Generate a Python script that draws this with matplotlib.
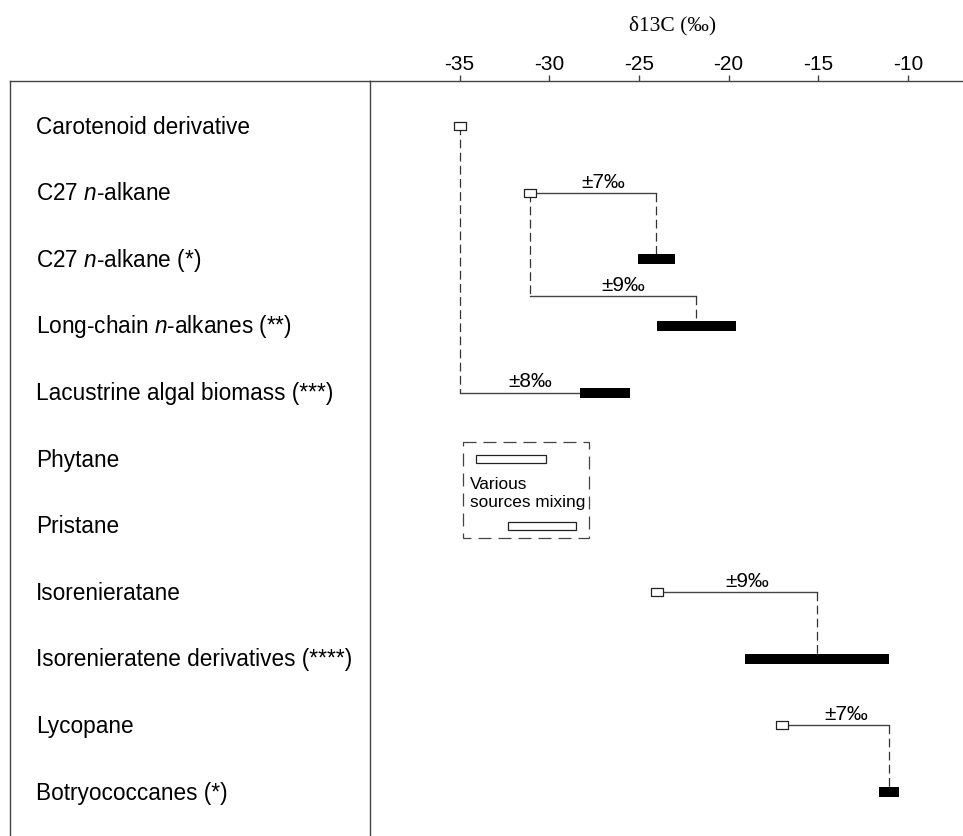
import matplotlib
matplotlib.use("Agg")
import matplotlib.pyplot as plt
from matplotlib.patches import Rectangle
from matplotlib.lines import Line2D
from matplotlib.transforms import blended_transform_factory

plt.rcParams['font.family'] = ['Liberation Sans', 'DejaVu Sans']
plt.rcParams['mathtext.fontset'] = 'custom'
plt.rcParams['mathtext.rm'] = 'Liberation Sans'
plt.rcParams['mathtext.it'] = 'Liberation Sans:italic'

# Filas de la tabla (de arriba abajo)
compounds = [
    "Carotenoid derivative",
    r"C27 $\mathit{n}$-alkane",
    r"C27 $\mathit{n}$-alkane (*)",
    r"Long-chain $\mathit{n}$-alkanes (**)",
    "Lacustrine algal biomass (***)",
    "Phytane",
    "Pristane",
    "Isorenieratane",
    "Isorenieratene derivatives (****)",
    "Lycopane",
    "Botryococcanes (*)",
]

# Valores medidos (cuadrados abiertos): fila, d13C
measured_rows = [0, 1, 7, 9]
measured_d13c = [-35.0, -31.1, -24.0, -17.0]

# Rangos de referencia (barras negras): fila, inicio, fin
range_rows = [2, 3, 4, 8, 10]
range_start = [-25.05, -24.0, -28.3, -19.1, -11.6]
range_end = [-23.0, -19.6, -25.5, -11.05, -10.5]

# Phytane / Pristane (barras abiertas)
mix_rows = [5, 6]
mix_start = [-34.1, -32.3]
mix_end = [-30.2, -28.5]

# Conexiones: fila origen, fila destino, desplazamiento, tipo de codo
link_from = [1, 1, 0, 7, 9]
link_to = [2, 3, 4, 8, 10]
link_shift = ["±7‰", "±9‰", "±8‰", "±9‰", "±7‰"]
link_kind = ["top", "mid", "bottom", "top", "top"]

ticks = [-35, -30, -25, -20, -15, -10]

W, H = 963, 837
fig = plt.figure(figsize=(W / 100, H / 100), dpi=100)
top_px, left_px = 82, 370
ax = fig.add_axes([left_px / W, 0, 1 - left_px / W, 1 - top_px / H])
ax.set_xlim(-40, -6.92)
ax.set_ylim(10.66, -0.679)

line_col = '#444444'
dash_col = '#333333'
bar_h = 0.15

for sp in ['bottom', 'right']:
    ax.spines[sp].set_visible(False)
for sp in ['top', 'left']:
    ax.spines[sp].set_color(line_col)
    ax.spines[sp].set_linewidth(1.0)
ax.xaxis.tick_top()
ax.set_xticks(ticks)
ax.set_xticklabels([str(t) for t in ticks])
ax.tick_params(axis='x', direction='out', length=4.5, width=1.0, color=line_col,
               labelsize=15, pad=1)
ax.set_yticks([])

# Barras de referencia
ax.barh(range_rows, [e - s for s, e in zip(range_start, range_end)], left=range_start,
        height=bar_h, color='black', zorder=3)

# Conexiones
m_lookup = dict(zip(measured_rows, measured_d13c))
r_lookup = {r: (s, e) for r, s, e in zip(range_rows, range_start, range_end)}
dash = (0, (7, 3.5))
for src, dst, txt, kind in zip(link_from, link_to, link_shift, link_kind):
    x0 = m_lookup[src]
    s, e = r_lookup[dst]
    xm = (s + e) / 2
    if kind == "bottom":
        ax.plot([x0, x0], [src, dst], color=dash_col, lw=0.9, ls=dash, zorder=2)
        ax.plot([x0, s], [dst, dst], color=line_col, lw=1.0, zorder=2)
        xt, yt = (x0 + s) / 2 + 0.6, dst
    else:
        y_el = src if kind == "top" else dst - 0.45
        if kind == "mid":
            ax.plot([x0, x0], [src, y_el], color=dash_col, lw=0.9, ls=dash, zorder=2)
        ax.plot([x0, xm], [y_el, y_el], color=line_col, lw=1.0, zorder=2)
        ax.plot([xm, xm], [y_el, dst - bar_h / 2], color=dash_col, lw=0.9, ls=dash, zorder=2)
        xt, yt = (x0 + xm) / 2 + 0.6, y_el
    ax.annotate(txt, (xt, yt), xytext=(0, 4.5), textcoords='offset points',
                ha='center', va='baseline', fontsize=15)

# Cuadrados abiertos (un poco más anchos que altos)
sq = [(-1.5, -1), (1.5, -1), (1.5, 1), (-1.5, 1), (-1.5, -1)]
ax.plot(measured_d13c, measured_rows, ls='none', marker=sq, ms=9, mfc='white',
        mec='#222222', mew=0.9, zorder=5)

# Mezcla de fuentes
ax.barh(mix_rows, [e - s for s, e in zip(mix_start, mix_end)], left=mix_start,
        height=0.12, color='white', edgecolor='#222222', linewidth=0.9, zorder=3)
bx0, bx1 = min(mix_start) - 0.7, max(mix_end) + 0.7
by0, by1 = mix_rows[0] - 0.26, mix_rows[-1] + 0.19
ax.add_patch(Rectangle((bx0, by0), bx1 - bx0, by1 - by0, fill=False, edgecolor=line_col,
                       lw=0.9, ls=(0, (10.4, 5.6)), zorder=2))
ax.text(bx0 + 0.4, 5.5, "Various\nsources mixing", ha='left', va='center',
        fontsize=12.4, linespacing=1.3)

# Columna de etiquetas
lab_tr = blended_transform_factory(fig.transFigure, ax.transData)
for i, name in enumerate(compounds):
    ax.text(36 / W, i, name, transform=lab_tr, ha='left', va='center', fontsize=16.3,
            clip_on=False)

fig.add_artist(Line2D([10 / W, left_px / W], [1 - top_px / H] * 2, color=line_col, lw=1.0,
                      transform=fig.transFigure))
fig.add_artist(Line2D([10 / W, 10 / W], [0, 1 - top_px / H], color=line_col, lw=1.0,
                      transform=fig.transFigure))

fig.text(673 / W, 1 - 26 / H, "δ13C (‰)", ha='center', va='center', fontsize=15.5,
         family=['Liberation Serif', 'DejaVu Serif'])

fig.savefig("out.png", dpi=100)
